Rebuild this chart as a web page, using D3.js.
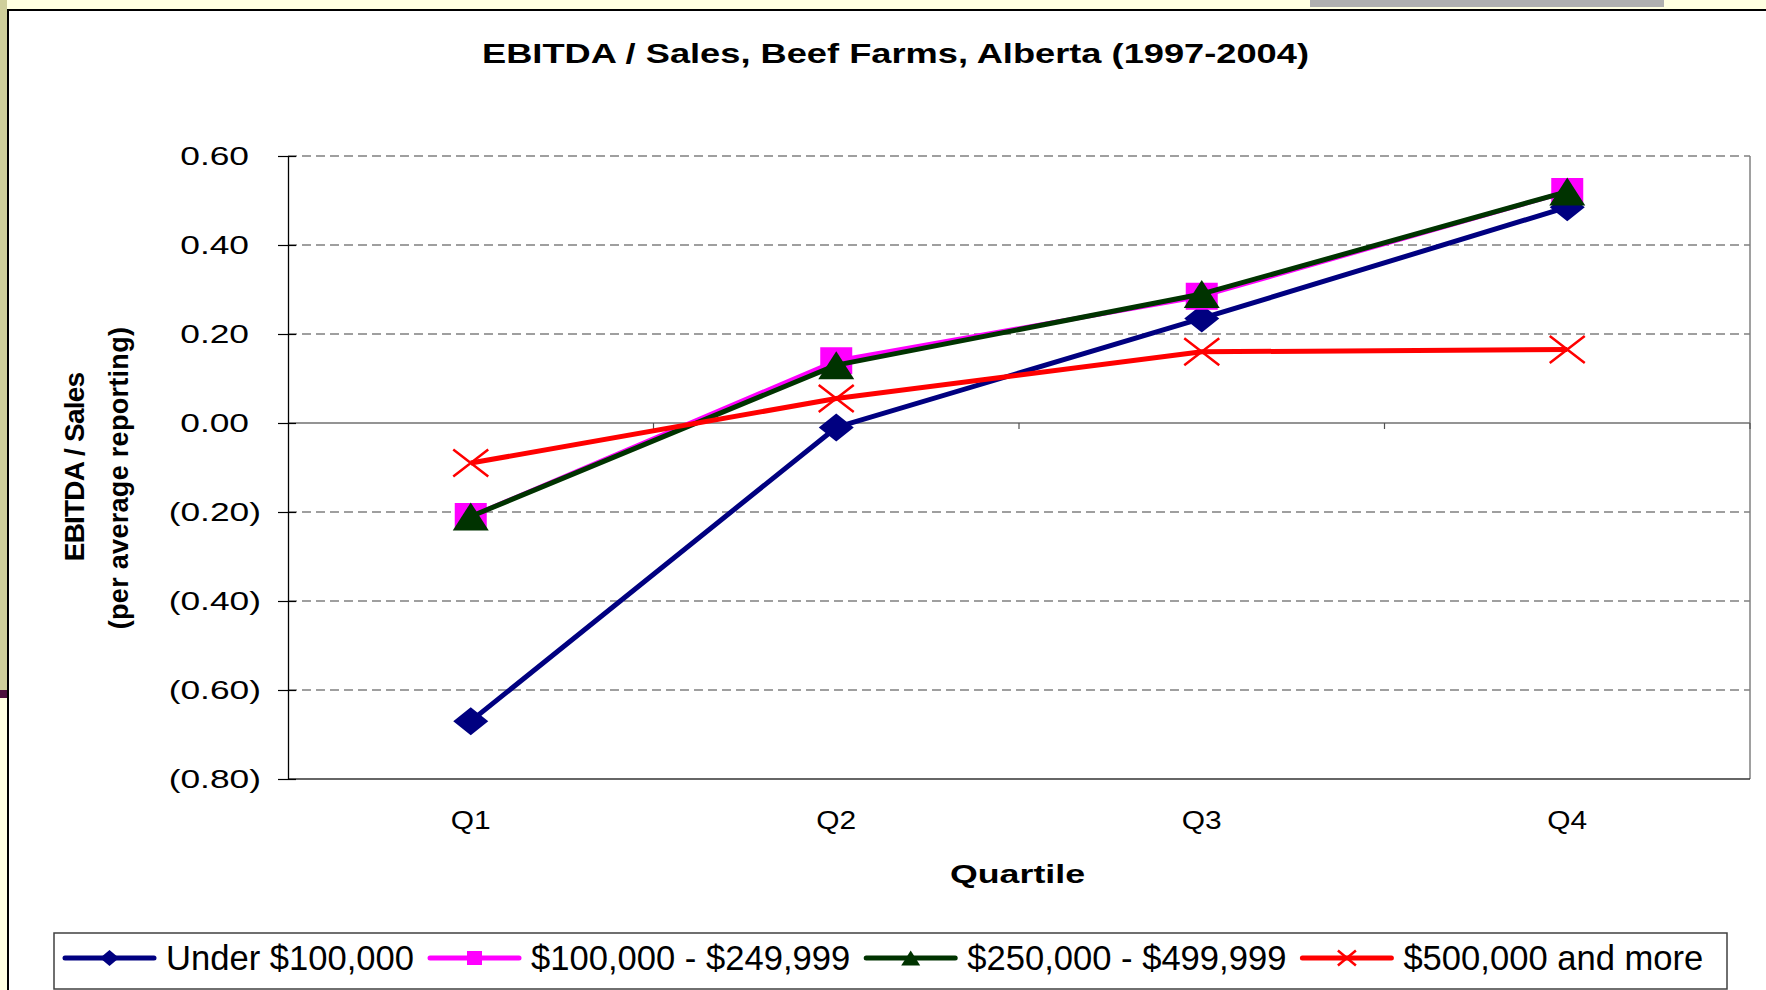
<!DOCTYPE html>
<html>
<head>
<meta charset="utf-8">
<script src="https://cdn.jsdelivr.net/npm/d3@7"></script>
<style>
  body { margin: 0; background: #ffffe1; }
  text { font-family: "Liberation Sans", Arial, sans-serif; fill: #000; }
</style>
</head>
<body>
<div id="vis"></div>
<script>
// data
const quartiles = ["Q1", "Q2", "Q3", "Q4"];
const seriesNames = ["Under $100,000", "$100,000 - $249,999", "$250,000 - $499,999", "$500,000 and more"];
const under100k = [-0.67, -0.01, 0.235, 0.485];
const from100kTo250k = [-0.21, 0.14, 0.285, 0.52];
const from250kTo500k = [-0.21, 0.13, 0.29, 0.52];
const over500k = [-0.09, 0.055, 0.16, 0.165];
const yTicks = [0.6, 0.4, 0.2, 0, -0.2, -0.4, -0.6, -0.8];
const yTickLabels = ["0.60", "0.40", "0.20", "0.00", "(0.20)", "(0.40)", "(0.60)", "(0.80)"];

const seriesValues = [under100k, from100kTo250k, from250kTo500k, over500k];
const seriesColors = ["#000080", "#ff00ff", "#003300", "#ff0000"];
const seriesMarkers = ["diamond", "square", "triangle", "x"];
const markerSize = { diamond: [35, 28], square: [32, 27], triangle: [36, 28], x: [35, 27] };
const legendMarkerSize = { diamond: [19, 16], square: [15, 14], triangle: [19, 15], x: [18, 15] };
const lineWidths = [5, 4.5, 5, 5];

const W = 1766, H = 990;
const plot = { left: 288, right: 1750, top: 156, bottom: 779 };

const svg = d3.select("#vis").append("svg")
  .attr("width", W).attr("height", H);

// slide background bits
svg.append("rect").attr("width", W).attr("height", H).attr("fill", "#ffffe1");
svg.append("rect").attr("x", 0).attr("y", 0).attr("width", 7).attr("height", 690).attr("fill", "#cfcf9b");
svg.append("rect").attr("x", 0).attr("y", 690).attr("width", 7).attr("height", 8).attr("fill", "#4b0f3c");
svg.append("rect").attr("x", 1310).attr("y", 0).attr("width", 354).attr("height", 7).attr("fill", "#b0b0b0");
svg.append("rect").attr("x", 8).attr("y", 10).attr("width", W).attr("height", H)
  .attr("fill", "#fff").attr("stroke", "#000").attr("stroke-width", 2);

function markerPath(type, w, h) {
  const a = w / 2, b = h / 2;
  if (type === "diamond") return `M0,${-b}L${a},0L0,${b}L${-a},0Z`;
  if (type === "square") return `M${-a},${-b}H${a}V${b}H${-a}Z`;
  if (type === "triangle") return `M0,${-b}L${a},${b}H${-a}Z`;
  return `M${-a},${-b}L${a},${b}M${a},${-b}L${-a},${b}`;
}

let x = d3.scaleBand().domain(quartiles).range([plot.left, plot.right]);
let y = d3.scaleLinear().domain([-0.8, 0.6]).range([plot.bottom, plot.top]);
const cx = q => x(q) + x.bandwidth() / 2;

// title
svg.append("text")
  .attr("x", 482).attr("y", 63)
  .attr("font-size", 27).attr("font-weight", "bold")
  .attr("textLength", 827).attr("lengthAdjust", "spacingAndGlyphs")
  .text("EBITDA / Sales, Beef Farms, Alberta (1997-2004)");

// gridlines (dashed)
svg.append("g").selectAll("line")
  .data(yTicks.filter(d => d !== 0 && d !== -0.8))
  .enter().append("line")
  .attr("x1", plot.left).attr("x2", plot.right)
  .attr("y1", d => y(d)).attr("y2", d => y(d))
  .attr("stroke", "#404040").attr("stroke-width", 1.2)
  .attr("stroke-dasharray", "9,5");

// plot border right + bottom
svg.append("line").attr("x1", plot.right).attr("x2", plot.right)
  .attr("y1", plot.top).attr("y2", plot.bottom).attr("stroke", "#808080").attr("stroke-width", 1.5);
svg.append("line").attr("x1", plot.left).attr("x2", plot.right)
  .attr("y1", plot.bottom).attr("y2", plot.bottom).attr("stroke", "#333").attr("stroke-width", 1.5);

// zero line with category ticks
svg.append("line").attr("x1", plot.left).attr("x2", plot.right)
  .attr("y1", y(0)).attr("y2", y(0)).attr("stroke", "#707070").attr("stroke-width", 1.5);
svg.append("g").selectAll("line")
  .data(quartiles)
  .enter().append("line")
  .attr("x1", d => x(d) + x.bandwidth()).attr("x2", d => x(d) + x.bandwidth())
  .attr("y1", y(0)).attr("y2", y(0) + 6)
  .attr("stroke", "#505050").attr("stroke-width", 1.2);

// y axis
const sx = 1.36;
let yAxis = svg.append("g")
  .attr("transform", `translate(${plot.left},0)`)
  .call(d3.axisLeft(y).tickValues(yTicks).tickSizeInner(10).tickSizeOuter(0).tickPadding(29)
    .tickFormat((d, i) => yTickLabels[i]));
yAxis.select(".domain").attr("stroke", "#000").attr("stroke-width", 1.3);
yAxis.selectAll(".tick line").attr("x1", 8).attr("stroke", "#000").attr("stroke-width", 1.2);
// negative labels hang their ")" past the digits, like Excel's 0.00_);(0.00)
yAxis.selectAll(".tick text")
  .attr("font-size", 26).attr("font-family", null)
  .attr("x", d => (d < 0 ? -27 : -39) / sx).attr("transform", `scale(${sx},1)`);

// x axis labels (placed low, under plot)
let xAxis = svg.append("g")
  .attr("transform", `translate(0,${plot.bottom})`)
  .call(d3.axisBottom(x).tickSize(0).tickPadding(32));
xAxis.select(".domain").remove();
xAxis.selectAll(".tick text")
  .attr("font-size", 26).attr("font-family", null)
  .attr("transform", "scale(1.15,1)");

// axis titles
svg.append("text")
  .attr("x", 950).attr("y", 883)
  .attr("font-size", 26).attr("font-weight", "bold")
  .attr("textLength", 135).attr("lengthAdjust", "spacingAndGlyphs")
  .text("Quartile");

svg.append("text")
  .attr("transform", "translate(84,467) rotate(-90)")
  .attr("text-anchor", "middle")
  .attr("font-size", 28).attr("font-weight", "bold")
  .attr("letter-spacing", -0.8)
  .text("EBITDA / Sales");
svg.append("text")
  .attr("transform", "translate(128,478) rotate(-90)")
  .attr("text-anchor", "middle")
  .attr("font-size", 27).attr("font-weight", "bold")
  .attr("letter-spacing", 0.3)
  .text("(per average reporting)");

// series
const line = d3.line()
  .x((d, i) => cx(quartiles[i]))
  .y(d => y(d));

seriesValues.forEach(function(vals, s) {
  let g = svg.append("g");
  g.append("path")
    .datum(vals)
    .attr("d", line)
    .attr("fill", "none")
    .attr("stroke", seriesColors[s])
    .attr("stroke-width", lineWidths[s])
    .attr("stroke-linejoin", "round");

  const m = seriesMarkers[s];
  g.selectAll("path.mark")
    .data(vals)
    .enter().append("path")
    .attr("class", "mark")
    .attr("transform", (d, i) => `translate(${cx(quartiles[i])},${y(d)})`)
    .attr("d", markerPath(m, markerSize[m][0], markerSize[m][1]))
    .attr("fill", m === "x" ? "none" : seriesColors[s])
    .attr("stroke", m === "x" ? seriesColors[s] : "none")
    .attr("stroke-width", 2.5);
});

// legend
svg.append("rect")
  .attr("x", 54).attr("y", 933).attr("width", 1673).attr("height", 56)
  .attr("fill", "#fff").attr("stroke", "#404040").attr("stroke-width", 1.5);

let lx = 65;
const ly = 958;
seriesNames.forEach(function(name, s) {
  let g = svg.append("g");
  g.append("line")
    .attr("x1", lx).attr("x2", lx + 89)
    .attr("y1", ly).attr("y2", ly)
    .attr("stroke", seriesColors[s]).attr("stroke-width", 5)
    .attr("stroke-linecap", "round");
  const m = seriesMarkers[s];
  g.append("path")
    .attr("transform", `translate(${lx + 44.5},${ly})`)
    .attr("d", markerPath(m, legendMarkerSize[m][0], legendMarkerSize[m][1]))
    .attr("fill", m === "x" ? "none" : seriesColors[s])
    .attr("stroke", m === "x" ? seriesColors[s] : "none")
    .attr("stroke-width", 2.5);
  let t = g.append("text")
    .attr("x", lx + 101).attr("y", ly + 12)
    .attr("font-size", 34.6)
    .text(name);
  lx += 101 + t.node().getComputedTextLength() + 16;
});
</script>
</body>
</html>
